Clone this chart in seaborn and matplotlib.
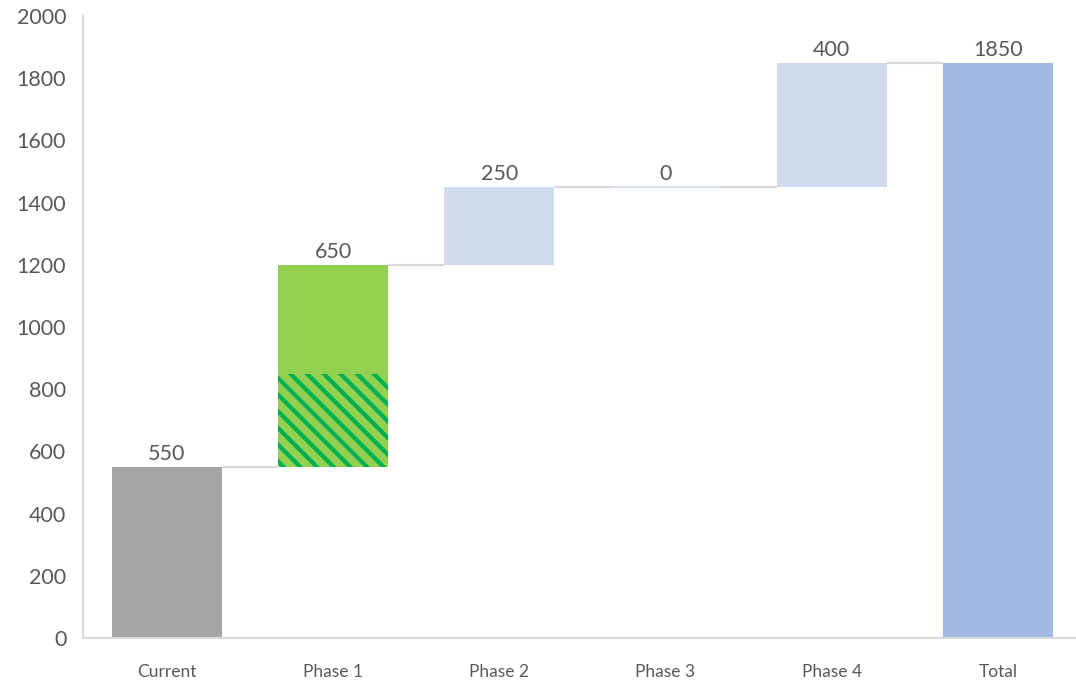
import matplotlib
matplotlib.use("Agg")
import matplotlib.pyplot as plt
import seaborn as sns
import numpy as np

categories = ["Current", "Phase 1", "Phase 2", "Phase 3", "Phase 4", "Total"]
changes = [550, 650, 250, 0, 400, 1850]
# Phase 1 split: hatched lower part and solid upper part
phase1_hatched = 300
phase1_solid = 350

sns.set_style("white")
plt.rcParams["font.family"] = ["Lato", "DejaVu Sans"]
plt.rcParams["hatch.linewidth"] = 3.0

fig = plt.figure(figsize=(10.76, 6.8), dpi=100)
ax = fig.add_axes([0.0771, 0.0618, 0.9275, 0.9147])

# running totals
bottoms = []
tops = []
run = 0
for i, c in enumerate(changes):
    if i == len(changes) - 1:
        bottoms.append(0)
        tops.append(c)
    else:
        bottoms.append(run)
        run += c
        tops.append(run)

colors = ["#A5A5A5", "#92D050", "#D0DCEE", "#D0DCEE", "#D0DCEE", "#A3B9E1"]
W = 0.66

for i, cat in enumerate(categories):
    if cat == "Phase 1":
        sns.barplot(x=[cat], y=[phase1_hatched], order=categories, bottom=bottoms[i],
                    color="#92D050", width=W, ax=ax, hatch="\\\\", edgecolor="#00B050",
                    linewidth=0, saturation=1)
        sns.barplot(x=[cat], y=[phase1_solid], order=categories,
                    bottom=bottoms[i] + phase1_hatched,
                    color="#92D050", width=W, ax=ax, linewidth=0, saturation=1)
    elif changes[i] == 0:
        sns.barplot(x=[cat], y=[0], order=categories, bottom=bottoms[i],
                    color=colors[i], width=W, ax=ax, edgecolor=colors[i],
                    linewidth=1.2, saturation=1)
    else:
        sns.barplot(x=[cat], y=[changes[i]], order=categories, bottom=bottoms[i],
                    color=colors[i], width=W, ax=ax, linewidth=0, saturation=1)

# connectors
for i in range(len(categories) - 1):
    level = tops[i]
    ax.plot([i + W / 2, i + 1 - W / 2], [level, level], color="#D9D9D9", lw=1.6,
            solid_capstyle="butt", zorder=1)

# data labels
for i, c in enumerate(changes):
    ax.annotate(f"{c}", xy=(i, tops[i]), xytext=(0, 2), textcoords="offset points",
                ha="center", va="bottom", fontsize=15.5, color="#595959")

ax.set_xlim(-0.505, 5.5)
ax.set_ylim(0, 2000)
ax.set_yticks(np.arange(0, 2001, 200))
ax.set_xlabel("")
ax.set_ylabel("")
ax.tick_params(axis="y", labelsize=15.5, labelcolor="#595959", length=0, pad=12)
ax.tick_params(axis="x", labelsize=12.5, labelcolor="#595959", length=0, pad=19)
for s in ["top", "right"]:
    ax.spines[s].set_visible(False)
for s in ["left", "bottom"]:
    ax.spines[s].set_color("#D9D9D9")
    ax.spines[s].set_linewidth(1.5)
ax.grid(False)

fig.savefig("out.png", dpi=100)
